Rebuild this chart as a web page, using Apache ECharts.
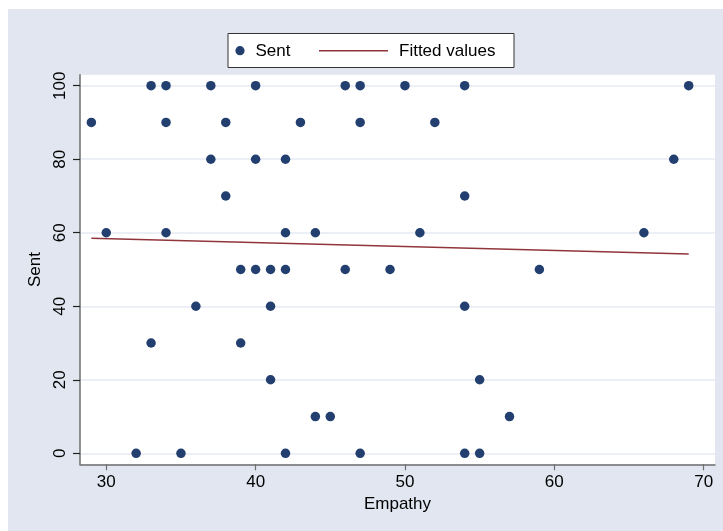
<!DOCTYPE html>
<html>
<head>
<meta charset="utf-8">
<script src="https://cdn.jsdelivr.net/npm/echarts@6/dist/echarts.min.js"></script>
<style>
  html, body { margin: 0; padding: 0; background: #ffffff; }
  #chart { width: 723px; height: 531px; }
</style>
</head>
<body>
<div id="chart"></div>
<script>
// Empathy score vs. amount sent, one entry per respondent
const empathy = [33, 34, 37, 40, 46, 47, 50, 54, 69,
                 29, 34, 38, 43, 47, 52,
                 37, 40, 42, 68,
                 38, 54,
                 30, 34, 42, 44, 51, 66,
                 39, 40, 41, 42, 46, 49, 59,
                 36, 41, 54,
                 33, 39,
                 41, 55,
                 44, 45, 57,
                 32, 35, 42, 47, 54, 55];
const sent = [100, 100, 100, 100, 100, 100, 100, 100, 100,
              90, 90, 90, 90, 90, 90,
              80, 80, 80, 80,
              70, 70,
              60, 60, 60, 60, 60, 60,
              50, 50, 50, 50, 50, 50, 50,
              40, 40, 40,
              30, 30,
              20, 20,
              10, 10, 10,
              0, 0, 0, 0, 0, 0];

// Linear fit endpoints
const fitX = [29, 69];
const fitY = [58.5, 54.2];

const xTicks = [30, 40, 50, 60, 70];
const yTicks = [0, 20, 40, 60, 80, 100];

const FONT = "'Liberation Sans', Arial, sans-serif";
const DOT = '#223f6f';
const FIT = '#90353b';
const AXIS = '#6e6e6e';
const GRIDLINE = '#e6eaf2';

const scatterData = empathy.map((x, i) => [x, sent[i]]);
const fitData = fitX.map((x, i) => [x, fitY[i]]);

const chart = echarts.init(document.getElementById('chart'), null, { renderer: 'canvas' });

chart.setOption({
  animation: false,
  backgroundColor: '#ffffff',
  textStyle: { fontFamily: FONT },
  graphic: [
    // outer graph region
    { type: 'rect', z: -10, silent: true,
      shape: { x: 8, y: 9, width: 723 - 8, height: 531 - 9 },
      style: { fill: '#e1e6f0' } },
    // legend
    { type: 'group', z: 100, silent: true, children: [
      { type: 'rect', shape: { x: 228, y: 33.5, width: 286, height: 34 },
        style: { fill: '#ffffff', stroke: '#333333', lineWidth: 1 } },
      { type: 'circle', shape: { cx: 240, cy: 50.7, r: 4.6 }, style: { fill: DOT } },
      { type: 'text', x: 255.5, y: 51, style: { text: 'Sent', fill: '#000', font: '17px ' + FONT, verticalAlign: 'middle' } },
      { type: 'line', shape: { x1: 319, y1: 50.7, x2: 388, y2: 50.7 }, style: { stroke: FIT, lineWidth: 1.5 } },
      { type: 'text', x: 399, y: 51, style: { text: 'Fitted values', fill: '#000', font: '17px ' + FONT, verticalAlign: 'middle' } }
    ] }
  ],
  grid: {
    left: 80, top: 74.7, right: 8, bottom: 66.7,
    show: true, backgroundColor: '#ffffff', borderWidth: 0
  },
  xAxis: {
    type: 'value',
    min: 28.24, max: 70.76,
    name: 'Empathy', nameLocation: 'middle', nameGap: 30,
    nameTextStyle: { fontSize: 17, color: '#000', fontFamily: FONT },
    axisLine: { show: true, onZero: false, lineStyle: { color: AXIS, width: 1.5 } },
    axisTick: { show: true, length: 6, customValues: xTicks, lineStyle: { color: AXIS, width: 1.2 } },
    axisLabel: { customValues: xTicks, margin: 10, fontSize: 17, color: '#000', fontFamily: FONT },
    splitLine: { show: false }
  },
  yAxis: {
    type: 'value',
    min: -3, max: 103,
    name: 'Sent', nameLocation: 'middle', nameGap: 33,
    nameTextStyle: { fontSize: 17, color: '#000', fontFamily: FONT },
    axisLine: { show: true, onZero: false, lineStyle: { color: AXIS, width: 1.5 } },
    axisTick: { show: true, length: 7, customValues: yTicks, lineStyle: { color: '#222', width: 1.2 } },
    axisLabel: { customValues: yTicks, rotate: 90, margin: 11, fontSize: 17, color: '#000', fontFamily: FONT },
    splitLine: { show: true, lineStyle: { color: GRIDLINE, width: 1.5 } }
  },
  series: [
    {
      name: 'Sent', type: 'scatter',
      data: scatterData,
      symbol: 'circle', symbolSize: 9.5,
      itemStyle: { color: DOT, opacity: 1 },
      z: 3
    },
    {
      name: 'Fitted values', type: 'line',
      data: fitData,
      symbol: 'none',
      lineStyle: { color: FIT, width: 1.5 },
      z: 4
    }
  ]
});
</script>
</body>
</html>
